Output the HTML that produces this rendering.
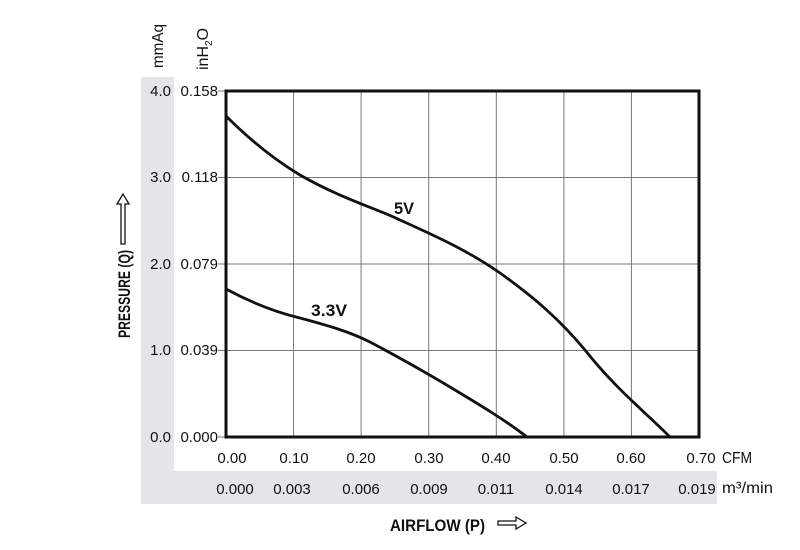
<!DOCTYPE html>
<html><head><style>
body{margin:0;background:#fff;}
svg text{font-family:"Liberation Sans Narrow","Liberation Sans",sans-serif;fill:#111;}
</style></head><body>
<svg width="800" height="545" viewBox="0 0 800 545" xmlns="http://www.w3.org/2000/svg">
<rect x="141" y="77" width="33" height="427" fill="#e4e5ea"/>
<rect x="141" y="471" width="576" height="33" fill="#e4e5ea"/>
<g stroke="#777" stroke-width="1">
<line x1="293.6" y1="91" x2="293.6" y2="437"/>
<line x1="361.1" y1="91" x2="361.1" y2="437"/>
<line x1="428.7" y1="91" x2="428.7" y2="437"/>
<line x1="496.3" y1="91" x2="496.3" y2="437"/>
<line x1="563.9" y1="91" x2="563.9" y2="437"/>
<line x1="631.4" y1="91" x2="631.4" y2="437"/>
<line x1="226" y1="177.5" x2="699" y2="177.5"/>
<line x1="226" y1="264" x2="699" y2="264"/>
<line x1="226" y1="350.5" x2="699" y2="350.5"/>
<line x1="218" y1="91" x2="226" y2="91"/>
<line x1="218" y1="177.5" x2="226" y2="177.5"/>
<line x1="218" y1="264" x2="226" y2="264"/>
<line x1="218" y1="350.5" x2="226" y2="350.5"/>
<line x1="218" y1="437" x2="226" y2="437"/>
</g>
<rect x="226" y="91" width="473" height="346" fill="none" stroke="#111" stroke-width="3"/>
<path d="M226,116 C250,140 275,160 300,175 C340,198 375,208 400,220 C440,238 470,252 500,273 C535,298 560,320 585,350 C615,388 645,412 670,437" fill="none" stroke="#111" stroke-width="2.8"/>
<path d="M226,289 C250,302 275,312 300,318 C330,326 350,332 370,342 C400,358 425,372 450,387 C480,405 505,420 527,437" fill="none" stroke="#111" stroke-width="2.8"/>
<text x="394" y="214" font-size="17" font-weight="bold" textLength="20" lengthAdjust="spacingAndGlyphs">5V</text>
<text x="311" y="316" font-size="17" font-weight="bold" textLength="36" lengthAdjust="spacingAndGlyphs">3.3V</text>
<g font-size="15" text-anchor="end">
<text x="171" y="96">4.0</text><text x="171" y="182">3.0</text><text x="171" y="269">2.0</text><text x="171" y="355">1.0</text><text x="171" y="442">0.0</text>
<text x="218" y="96">0.158</text><text x="218" y="182">0.118</text><text x="218" y="269">0.079</text><text x="218" y="355">0.039</text><text x="218" y="442">0.000</text>
</g>
<g font-size="15" text-anchor="middle">
<text x="232" y="463">0.00</text><text x="294" y="463">0.10</text><text x="361" y="463">0.20</text><text x="429" y="463">0.30</text><text x="496" y="463">0.40</text><text x="564" y="463">0.50</text><text x="631" y="463">0.60</text><text x="701" y="463">0.70</text>
<text x="235" y="494">0.000</text><text x="292" y="494">0.003</text><text x="361" y="494">0.006</text><text x="429" y="494">0.009</text><text x="496" y="494">0.011</text><text x="564" y="494">0.014</text><text x="631" y="494">0.017</text><text x="697" y="494">0.019</text>
</g>
<text x="722" y="463" font-size="16" textLength="30" lengthAdjust="spacingAndGlyphs">CFM</text>
<text x="722" y="493" font-size="16" textLength="51" lengthAdjust="spacingAndGlyphs">m³/min</text>
<text transform="translate(163,68) rotate(-90)" font-size="16" textLength="44" lengthAdjust="spacingAndGlyphs">mmAq</text>
<text transform="translate(208,70) rotate(-90)" font-size="16">inH<tspan font-size="10" dy="4">2</tspan><tspan dy="-4">O</tspan></text>
<text transform="translate(130,338) rotate(-90)" font-size="17" font-weight="bold" textLength="88" lengthAdjust="spacingAndGlyphs">PRESSURE (Q)</text>
<path d="M121,244 v-40 h-4 l6,-10 l6,10 h-4 v40 z" fill="none" stroke="#111" stroke-width="1.3"/>
<text x="390" y="531" font-size="17" font-weight="bold" textLength="95" lengthAdjust="spacingAndGlyphs">AIRFLOW (P)</text>
<path d="M498,521 h18 v-4 l10,6 l-10,6 v-4 h-18 z" fill="none" stroke="#111" stroke-width="1.3"/>
</svg>
</body></html>
